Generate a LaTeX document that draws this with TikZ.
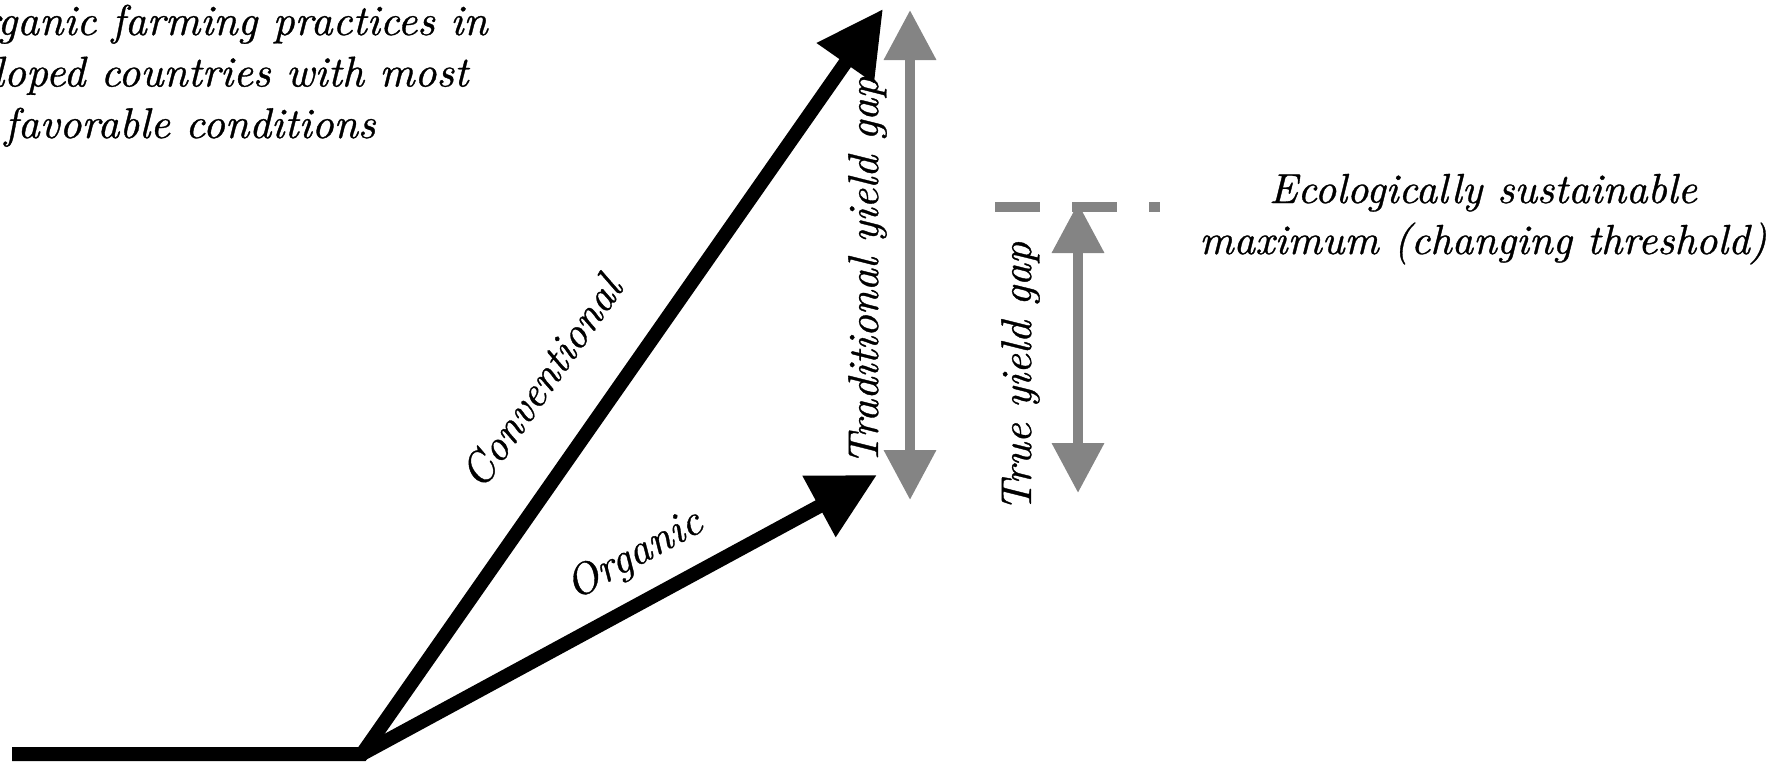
\documentclass[tikz,border=0pt]{standalone}
\usepackage{fontspec}
\newfontfamily\lblfont{lmroman10-italic.otf}[FakeBold=0.8]
\usetikzlibrary{arrows.meta}
\definecolor{gapgray}{RGB}{132,132,132}
\begin{document}
\begin{tikzpicture}[x=1pt,y=-1pt,
  lbl/.style={font=\fontsize{43}{51.5}\selectfont\lblfont, inner sep=0pt},
  ecolbl/.style={lbl, font=\fontsize{42}{51}\selectfont\lblfont},
  blackarrow/.style={line width=14pt, -{Triangle[length=66pt,width=66pt]}},
  grayarrow/.style={draw=gapgray, line width=10pt, {Triangle[length=50pt,width=50pt]}-{Triangle[length=50pt,width=50pt]}},
  graydash/.style={draw=gapgray, line width=10pt, dash pattern=on 45pt off 32pt}
]
\useasboundingbox (0,0) rectangle (1773,761);
\clip (0,0) rectangle (1773,761);

\coordinate (start) at (12,754);
\coordinate (O) at (362,754);
\coordinate (conv) at (883,9);
\coordinate (org) at (877,475);
\coordinate (tradtop) at (910,10);
\coordinate (tradbot) at (910,500);
\coordinate (truetop) at (1078,203);
\coordinate (truebot) at (1078,493);
\coordinate (ecoL) at (995,207);
\coordinate (ecoR) at (1160,207);

\draw[blackarrow] (start) -- (O) -- (conv);
\draw[blackarrow] (O) -- (org);
\draw[grayarrow] (tradbot) -- (tradtop);
\draw[graydash] (ecoL) -- (ecoR);
\draw[grayarrow] (truebot) -- (truetop);

\node[lbl, anchor=base, rotate=55] (convlabel) at (553,390) {Conventional};
\node[lbl, anchor=base, rotate=28.4] (orglabel) at (640,565) {Organic};
\node[lbl, anchor=base, rotate=90] (tradlabel) at (878,271) {Traditional yield gap};
\node[lbl, anchor=base, rotate=90] (truelabel) at (1031,377) {True yield gap};
\node[ecolbl, anchor=base, align=center] (eco) at (1483,254) {Ecologically sustainable\\maximum (changing threshold)};
\node[lbl, anchor=base, align=center] (title) at (190,138) {Organic farming practices in\hspace*{-56pt}\\developed countries with most\\favorable conditions};
\end{tikzpicture}
\end{document}
